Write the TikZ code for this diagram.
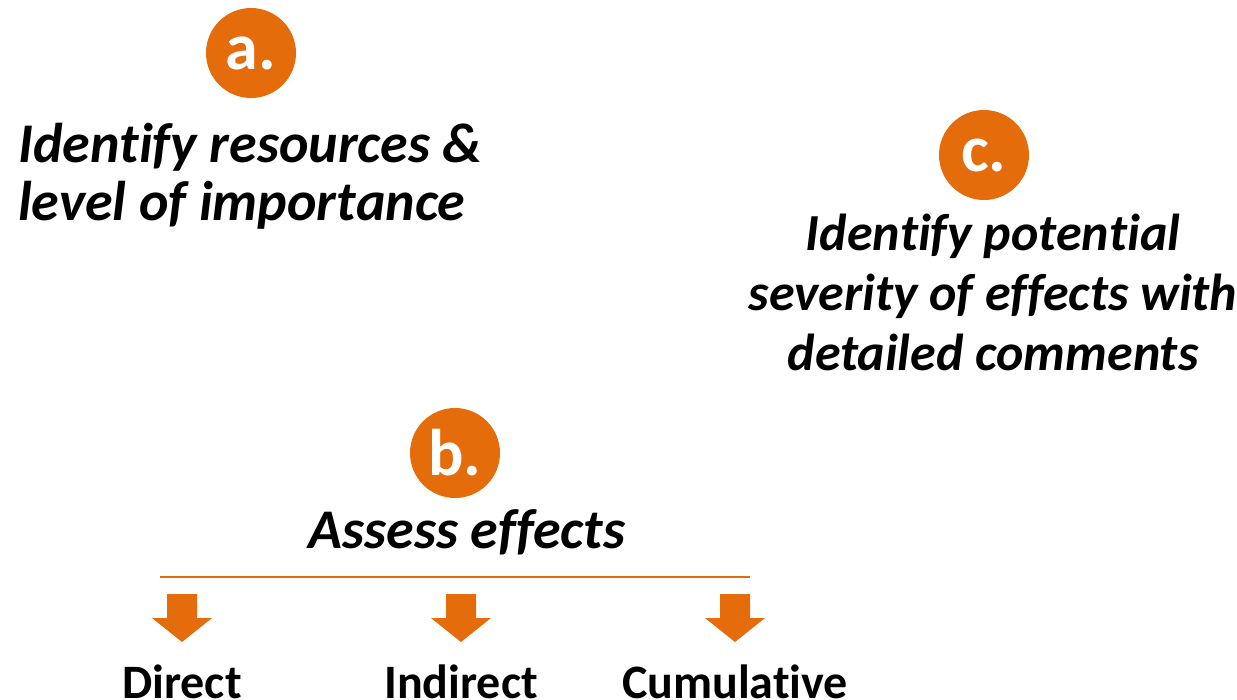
\documentclass[tikz,border=0pt]{standalone}
\usepackage{fontspec}
\setmainfont{Carlito}[Ligatures={NoCommon,NoRare,NoContextual}]
\definecolor{accent}{HTML}{E46C0A}
\newcommand{\nti}{\mbox{t}i}
\begin{document}
\begin{tikzpicture}[x=1pt,y=-1pt,
  badge/.style={circle,fill=accent,minimum size=90pt,inner sep=0pt,text=white,font=\fontsize{66}{66}\selectfont\bfseries},
  title/.style={inner sep=0pt,font=\fontsize{56}{58}\selectfont\bfseries\itshape},
  titlec/.style={inner sep=0pt,anchor=base,font=\fontsize{52}{60}\selectfont\bfseries\itshape},
  kind/.style={inner sep=0pt,anchor=base,font=\fontsize{48}{52}\selectfont\bfseries},
  blockarrow/.style={fill=accent,draw=none},
  rule/.style={draw=accent,line width=1.3pt}]
\useasboundingbox (0,0) rectangle (1237,699);
% badges
\node[badge] (ba) at (251,53) {a.};
\node[badge] (bb) at (455,453) {b.};
\node[badge] (bc) at (984,155) {c.};
% step a
\node[title,anchor=base west] (ta1) at (18,162) {Iden\nti fy resources \&};
\node[title,anchor=base west] (ta2) at (18,220) {level of impor\mbox{t}ance};
% step c
\node[titlec] (tc1) at (993,250) {Iden\nti fy poten\nti al};
\node[titlec] (tc2) at (993,310) {severity of effects with};
\node[titlec] (tc3) at (993,370) {detailed comments};
% step b
\node[title,anchor=base] (tb) at (467,548) {Assess effects};
\coordinate (rl) at (160,577);
\coordinate (rr) at (750,577);
\draw[rule] (rl) -- (rr);
% arrows and kinds
\foreach \n/\x/\t in {d/182/Direct,i/461/Indirect,c/735/Cumulative}{
  \fill[blockarrow] (\x-15,594) -- (\x+15,594) -- (\x+15,618) -- (\x+30,618)
     -- (\x,642) -- (\x-30,618) -- (\x-15,618) -- cycle;
  \node[kind] (k\n) at (\x,698) {\t};
}
\end{tikzpicture}
\end{document}
